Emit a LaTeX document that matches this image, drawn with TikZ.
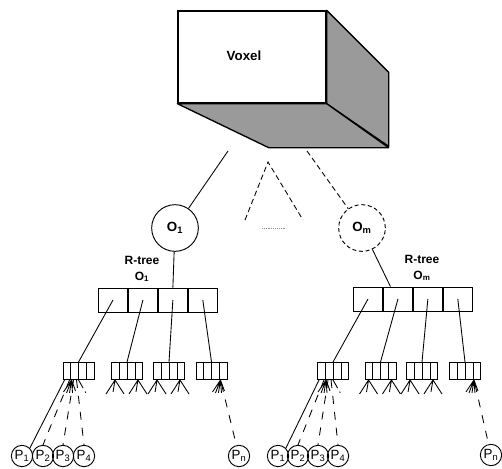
\documentclass[tikz,border=0pt]{standalone}
\usepackage{fontspec}
\setmainfont{Liberation Sans}
\usepackage{tikz}
\usetikzlibrary{positioning,calc}
\definecolor{ShadeGray}{HTML}{9A9A9A}
\definecolor{DotGray}{HTML}{8C8C8C}
\tikzset{
  voxelface/.style={draw,line width=1pt,fill=white,minimum width=111pt,minimum height=69pt,inner sep=0pt},
  shadeface/.style={draw,line width=1pt,fill=ShadeGray,line join=round},
  voxeltext/.style={font=\bfseries\fontsize{10}{12}\selectfont},
  objnode/.style={circle,draw,line width=0.7pt,fill=white,minimum size=35pt,inner sep=0pt,font=\bfseries\fontsize{10}{12}\selectfont},
  pointnode/.style={circle,draw,line width=0.7pt,minimum size=16pt,inner sep=0pt,font=\fontsize{10}{12}\selectfont},
  rcell/.style={draw,line width=0.7pt,minimum width=21.75pt,minimum height=18pt,inner sep=0pt},
  leafbox/.style={draw,line width=0.7pt,minimum width=23.25pt,minimum height=12.75pt,inner sep=0pt},
  treelabel/.style={align=center,font=\bfseries\fontsize{9}{12}\selectfont},
  link/.style={line width=0.65pt},
  dashlink/.style={line width=0.65pt,dash pattern=on 6pt off 6pt},
  ringdash/.style={dash pattern=on 3pt off 2pt},
  leaffan/.pic={\draw[link] (0,0) -- (-9,14) (0,0) -- (-2,12) (0,0) -- (9,14);},
  densefan/.pic={\draw[link] (0,0) -- (-8,12) (0,0) -- (-5,13) (0,0) -- (-2,13) (0,0) -- (1,13) (0,0) -- (4,11);}
}

\begin{document}
\begin{tikzpicture}[x=0.75pt,y=-0.75pt]
\useasboundingbox (0,0) rectangle (502,468);
% voxel box
\node[voxelface] (voxel) at (252,57) {};
\draw[shadeface] (voxel.north east) -- ++(62,62) -- ++(0,74) -- (voxel.south east) -- cycle;
\draw[shadeface] (voxel.south west) -- (voxel.south east) -- ++(62,44) -- ++(-120,0) -- cycle;
\node[voxeltext] (voxname) at (244,56) {Voxel};

% objects
\coordinate (vox1) at (228,151);
\coordinate (voxm) at (307,151);
\node[objnode] (o1) at (175,228) {O\textsubscript{1}};
\node[objnode,ringdash] (om) at (362,228) {O\textsubscript{m}};
\draw[link] (vox1) -- (o1);
\draw[link,dash pattern=on 4pt off 2.5pt] (voxm) -- (om);
\coordinate (tri) at (268,162);
\draw[link,dash pattern=on 4pt off 2.5pt] (245,220) -- (tri) -- (303,220);
\draw[DotGray,densely dotted] (262,228) -- (285,228);

% r-trees
\node[rcell] (a1) at (113,300) {};
\node[rcell,right=0pt of a1] (a2) {};
\node[rcell,right=0pt of a2] (a3) {};
\node[rcell,right=0pt of a3] (a4) {};
\node[rcell] (b1) at (368,299) {};
\node[rcell,right=0pt of b1] (b2) {};
\node[rcell,right=0pt of b2] (b3) {};
\node[rcell,right=0pt of b3] (b4) {};
\node[treelabel] (rta) at (142,269) {R-tree\\O\textsubscript{1}};
\node[treelabel] (rtb) at (422,268) {R-tree\\O\textsubscript{m}};
\draw[link] (o1) -- (a3.north);
\draw[link] (om) -- ($(b2.north west)!0.25!(b2.north east)$);

% leaves
\foreach \n/\x in {la1/78.5,la2/127,la3/169,la4/211.5,lb1/333,lb2/380.5,lb3/422,lb4/465}{
  \node[leafbox] (\n) at (\x,371) {};
  \foreach \k in {1,2,3}
    \draw[link] ($(\n.south west)!\k/4!(\n.south east)$) -- ($(\n.north west)!\k/4!(\n.north east)$);
}
\foreach \c/\l in {a1/la1,a2/la2,a3/la3,a4/la4,b1/lb1,b2/lb2,b3/lb3,b4/lb4}
  \draw[link] (\c.center) -- (\l.north);
\foreach \n in {la2,la3,lb2,lb3}{
  \pic at ($(\n.south west)+(4,0)$) {leaffan};
  \pic at ($(\n.south east)+(-5,0)$) {leaffan};
}

% points
\foreach \k/\x in {1/22,2/43,3/63,4/84}
  \node[pointnode] (pa\k) at (\x,456) {P\textsubscript{\k}};
\foreach \k/\x in {1/278,2/298,3/318,4/338}
  \node[pointnode] (pb\k) at (\x,456) {P\textsubscript{\k}};
\node[pointnode] (pan) at (239,456) {P\textsubscript{n}};
\node[pointnode] (pbn) at (491,455) {P\textsubscript{n}};
\foreach \s in {a,b}{
  \draw[link] ($(l\s1.south west)+(2,0)$) -- (p\s1.north east);
  \draw[dashlink] ($(l\s1.south west)+(7,0)$) -- (p\s2.north);
  \draw[dashlink] ($(l\s1.south west)+(11,0)$) -- (p\s3.north);
  \draw[dashlink] ($(l\s1.south west)+(14,0)$) -- (p\s4.north);
  \draw[link,dash pattern=on 7pt off 3pt on 1pt off 20pt] ($(l\s1.south west)+(16,0)$) -- ++(9,16);
  \pic at ($(l\s1.south west)+(9,0)$) {densefan};
  \pic at ($(l\s4.south east)+(-7,0)$) {densefan};
  \draw[dashlink] ($(l\s4.south east)+(-6,4)$) -- (p\s n);
}
\end{tikzpicture}
\end{document}
